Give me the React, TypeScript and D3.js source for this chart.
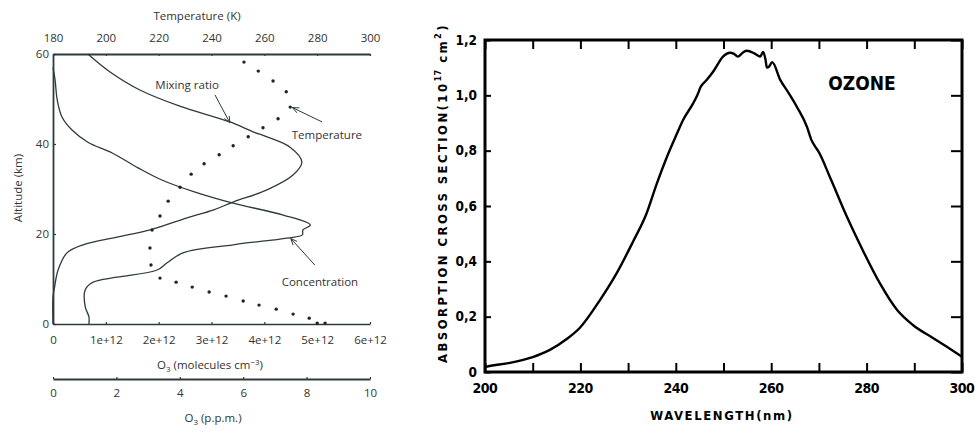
import * as d3 from 'd3'
import { useRef, useEffect } from 'react'

// ---- left panel: ozone profile ----
const mixAlt = [60, 56, 52, 48.4, 44.9, 42.7, 41.6, 39.3, 36, 33.1, 29.8, 27.1, 25.3, 23.6, 20.9, 19.3, 17.6, 15.8, 12, 8.2, 6, 0]
const mixPpm = [1.1, 1.8, 2.74, 4.0, 5.58, 6.31, 6.75, 7.48, 7.85, 7.57, 6.75, 5.68, 5.05, 4.23, 3.06, 2.02, 0.95, 0.44, 0.16, 0.05, 0, 0]

const concAlt = [57, 54.2, 49.8, 46, 43.1, 40.4, 38, 34.7, 32, 29.3, 26.9, 24.2, 22, 20.9, 19.8, 19.1, 17.6, 15.8, 13.6, 12, 10.4, 9.3, 7.6, 3.8, 1.6, 0]
const concE12 = [0, 0.04, 0.08, 0.17, 0.36, 0.66, 1.12, 1.61, 2.06, 2.69, 3.39, 4.36, 4.87, 4.73, 4.72, 4.43, 3.41, 2.46, 2.16, 1.97, 1.21, 0.76, 0.61, 0.61, 0.68, 0.68]

const tempAlt = [58.2, 56.2, 54, 51.6, 48.2, 45.6, 43.6, 41.6, 39.6, 37.6, 35.6, 33.3, 30.4, 27.3, 24, 20.9, 16.9, 13.1, 10.2, 9.3, 8.2, 7.1, 6.2, 5.1, 4.2, 3.3, 2.2, 1.3, 0.2, 0.2]
const tempK = [252.3, 257.7, 263.3, 268.3, 269.8, 265.2, 259.5, 253.9, 248.2, 242.9, 237.2, 232.3, 228.1, 223.6, 220.5, 217.5, 216.7, 217.1, 220.5, 226.6, 232.7, 239.1, 245.5, 252, 258, 264.5, 270.9, 277, 280, 283]

const tempTicks = [180, 200, 220, 240, 260, 280, 300]
const concTicks = [0, 1e12, 2e12, 3e12, 4e12, 5e12, 6e12]
const ppmTicks = [0, 2, 4, 6, 8, 10]
const altTicks = [0, 20, 40, 60]

// annotations in (ppm, km) plot units: label position, arrow start, arrow tip
const notes = [
  { text: 'Mixing ratio', lx: 4.23, ly: 53.1, x1: 5.11, y1: 50.9, x2: 5.58, y2: 44.7 },
  { text: 'Temperature', lx: 8.64, ly: 42, x1: 8.49, y1: 44.9, x2: 7.55, y2: 48.1 },
  { text: 'Concentration', lx: 8.42, ly: 9.3, x1: 8.26, y1: 13.1, x2: 7.5, y2: 19.0 },
]

// ---- right panel: ozone absorption cross section ----
const waveNm = [200, 200.5, 205.2, 210, 213.6, 217.2, 219.9, 224.1, 227.7, 231, 233.8, 236, 238.2, 240.2, 241.5, 243.6, 244.5, 245.2, 246.5, 248, 249.9, 251.4, 252.2, 253, 254.1, 254.9, 256.2, 257.1, 257.7, 258.3, 258.8, 259.1, 259.6, 260.2, 261.9, 263.6, 265.4, 267.5, 268.4, 269.4, 269.8, 272.3, 275.9, 279.2, 282.8, 286.4, 289.7, 293.9, 296.9, 300]
const crossSec = [0.018, 0.02, 0.033, 0.054, 0.08, 0.12, 0.16, 0.26, 0.36, 0.47, 0.57, 0.68, 0.78, 0.86, 0.91, 0.97, 1.0, 1.03, 1.056, 1.09, 1.14, 1.154, 1.15, 1.14, 1.155, 1.161, 1.154, 1.145, 1.14, 1.157, 1.13, 1.10, 1.105, 1.12, 1.056, 1.01, 0.958, 0.886, 0.84, 0.81, 0.80, 0.705, 0.56, 0.44, 0.32, 0.224, 0.17, 0.123, 0.09, 0.055]

const waveLabels = [200, 220, 240, 260, 280, 300]
const waveMinor = d3.range(200, 301, 10)
const csTicks = [0, 0.2, 0.4, 0.6, 0.8, 1.0, 1.2]

const INK = '#2e3a3b'
const LFONT = '"Open Sans", "Noto Sans", sans-serif'
const RFONT = '"DejaVu Sans Condensed", "DejaVu Sans", sans-serif'

export default function App() {
  const svgRef = useRef(null)
  const width = 975
  const height = 432

  useEffect(() => {
    const svg = d3.select(svgRef.current)
    svg.selectAll('*').remove()

    // ===== left panel =====
    const xConc = d3.scaleLinear().domain([0, 6e12]).range([53, 370])
    const xTemp = d3.scaleLinear().domain([180, 300]).range([53, 370])
    const xPpm = d3.scaleLinear().domain([0, 10]).range([53, 370])
    const yAlt = d3.scaleLinear().domain([0, 60]).range([324, 54])

    const L = svg.append('g')

    const styleAxis = (g, w) => {
      g.select('.domain').attr('stroke', INK).attr('stroke-width', w)
      g.selectAll('.tick line').attr('stroke', INK).attr('stroke-width', 1.2)
      g.selectAll('.tick text').attr('fill', '#333').attr('font-family', LFONT).attr('font-size', 11.5)
    }

    L.append('g').attr('transform', `translate(0,${yAlt(60)})`)
      .call(d3.axisTop(xTemp).tickValues(tempTicks).tickSizeInner(-2).tickSizeOuter(0).tickPadding(12))
      .call(g => styleAxis(g, 2.2))

    L.append('g').attr('transform', `translate(0,${yAlt(0)})`)
      .call(d3.axisBottom(xConc).tickValues(concTicks).tickSizeInner(-2).tickSizeOuter(0).tickPadding(12)
        .tickFormat(d => d === 0 ? '0' : `${d / 1e12}e+12`))
      .call(g => styleAxis(g, 1.6))

    L.append('g').attr('transform', `translate(${xConc(0)},0)`)
      .call(d3.axisLeft(yAlt).tickValues(altTicks).tickSizeInner(-3).tickSizeOuter(0).tickPadding(4))
      .call(g => styleAxis(g, 1.8))

    L.append('g').attr('transform', 'translate(0,379)')
      .call(d3.axisBottom(xPpm).tickValues(ppmTicks).tickSizeInner(-2).tickSizeOuter(0).tickPadding(10))
      .call(g => styleAxis(g, 1.8))

    const lbl = (x, y, t, opts = {}) => L.append('text')
      .attr('x', x).attr('y', y).attr('text-anchor', 'middle')
      .attr('font-family', LFONT).attr('font-size', opts.size || 11.5).attr('fill', '#333')
      .attr('transform', opts.rot ? `rotate(-90,${x},${y})` : null)
      .text(t)

    lbl(197, 20, 'Temperature (K)')
    const t1 = lbl(210, 369, '')
    t1.append('tspan').text('O')
    t1.append('tspan').attr('font-size', 8).attr('dy', 3).text('3')
    t1.append('tspan').attr('dy', -3).text(' (molecules cm')
    t1.append('tspan').attr('font-size', 8).attr('dy', -4).text('−3')
    t1.append('tspan').attr('dy', 4).text(')')
    const t2 = lbl(213, 422, '')
    t2.append('tspan').text('O')
    t2.append('tspan').attr('font-size', 8).attr('dy', 3).text('3')
    t2.append('tspan').attr('dy', -3).text(' (p.p.m.)')
    lbl(22, 188, 'Altitude (km)', { rot: true })

    const mixLine = d3.line().x(d => xPpm(d[1])).y(d => yAlt(d[0])).curve(d3.curveCatmullRom)
    L.append('path').datum(mixAlt.map((a, i) => [a, mixPpm[i]]))
      .attr('d', mixLine).attr('fill', 'none').attr('stroke', INK).attr('stroke-width', 1.3)

    const concLine = d3.line().x(d => xConc(d[1] * 1e12)).y(d => yAlt(d[0])).curve(d3.curveCatmullRom)
    L.append('path').datum(concAlt.map((a, i) => [a, concE12[i]]))
      .attr('d', concLine).attr('fill', 'none').attr('stroke', INK).attr('stroke-width', 1.3)

    L.append('g').selectAll('circle').data(tempAlt.map((a, i) => [a, tempK[i]])).join('circle')
      .attr('cx', d => xTemp(d[1])).attr('cy', d => yAlt(d[0])).attr('r', 1.7).attr('fill', '#222')

    // arrows
    notes.forEach(n => {
      const x1 = xPpm(n.x1), y1 = yAlt(n.y1), x2 = xPpm(n.x2), y2 = yAlt(n.y2)
      L.append('line').attr('x1', x1).attr('y1', y1).attr('x2', x2).attr('y2', y2)
        .attr('stroke', INK).attr('stroke-width', 1)
      const ang = Math.atan2(y2 - y1, x2 - x1)
      const hl = 7, hw = 0.4
      const p = [
        [x2 - hl * Math.cos(ang - hw), y2 - hl * Math.sin(ang - hw)],
        [x2, y2],
        [x2 - hl * Math.cos(ang + hw), y2 - hl * Math.sin(ang + hw)],
      ]
      L.append('path').attr('d', d3.line()(p)).attr('fill', 'none').attr('stroke', INK).attr('stroke-width', 1)
      lbl(xPpm(n.lx), yAlt(n.ly) + 4, n.text)
    })

    // ===== right panel =====
    const xW = d3.scaleLinear().domain([200, 300]).range([485, 962])
    const yS = d3.scaleLinear().domain([0, 1.2]).range([372, 40])
    const R = svg.append('g')

    const tk = (sel) => sel.selectAll('.tick line').attr('stroke', '#000').attr('stroke-width', 2)
    const noDom = (sel) => sel.select('.domain').remove()

    R.append('g').attr('transform', `translate(0,${yS(0)})`)
      .call(d3.axisBottom(xW).tickValues(waveMinor).tickSize(-9).tickFormat(() => ''))
      .call(noDom).call(tk)
    R.append('g').attr('transform', `translate(0,${yS(1.2)})`)
      .call(d3.axisTop(xW).tickValues(waveMinor).tickSize(-9).tickFormat(() => ''))
      .call(noDom).call(tk)
    R.append('g').attr('transform', `translate(${xW(300)},0)`)
      .call(d3.axisRight(yS).tickValues(csTicks).tickSize(-11).tickFormat(() => ''))
      .call(noDom).call(tk)
    R.append('g').attr('transform', `translate(${xW(200)},0)`)
      .call(d3.axisLeft(yS).tickValues(csTicks).tickSize(-6).tickPadding(8)
        .tickFormat(d => d === 0 ? '0' : d3.format('.1f')(d).replace('.', ',')))
      .call(noDom).call(tk)
      .call(g => g.selectAll('.tick text').attr('font-family', RFONT).attr('font-weight', 'bold')
        .attr('font-size', 13.5).attr('fill', '#000'))

    R.append('g').selectAll('text').data(waveLabels).join('text')
      .attr('x', d => xW(d)).attr('y', 393).attr('text-anchor', 'middle')
      .attr('font-family', RFONT).attr('font-weight', 'bold').attr('font-size', 14)
      .attr('letter-spacing', -0.5).text(d => d)

    R.append('rect').attr('x', xW(200)).attr('y', yS(1.2))
      .attr('width', xW(300) - xW(200)).attr('height', yS(0) - yS(1.2))
      .attr('fill', 'none').attr('stroke', '#000').attr('stroke-width', 3)

    R.append('path').datum(waveNm.map((w, i) => [w, crossSec[i]]))
      .attr('d', d3.line().x(d => xW(d[0])).y(d => yS(d[1])).curve(d3.curveMonotoneX))
      .attr('fill', 'none').attr('stroke', '#000').attr('stroke-width', 2.4).attr('stroke-linejoin', 'round')

    R.append('text').attr('x', 862).attr('y', 90).attr('text-anchor', 'middle')
      .attr('font-family', RFONT).attr('font-weight', 'bold').attr('font-size', 19).text('OZONE')

    R.append('text').attr('x', 722).attr('y', 420).attr('text-anchor', 'middle')
      .attr('font-family', RFONT).attr('font-weight', 'bold').attr('font-size', 13)
      .attr('letter-spacing', 1.6).text('WAVELENGTH(nm)')

    const yt = R.append('text').attr('transform', 'translate(447,193) rotate(-90)')
      .attr('text-anchor', 'middle').attr('font-family', RFONT).attr('font-weight', 'bold')
      .attr('font-size', 13).attr('letter-spacing', 2.4)
    yt.append('tspan').text('ABSORPTION CROSS SECTION(10')
    yt.append('tspan').attr('font-size', 9).attr('dy', -6).attr('letter-spacing', 0.5).text('17')
    yt.append('tspan').attr('dy', 6).text(' cm')
    yt.append('tspan').attr('font-size', 9).attr('dy', -6).text('2')
    yt.append('tspan').attr('dy', 6).text(')')
  }, [])

  return (
    <svg ref={svgRef} width={width} height={height}
      style={{ position: 'absolute', left: 0, top: 0, background: '#fff' }}>
    </svg>
  )
}
